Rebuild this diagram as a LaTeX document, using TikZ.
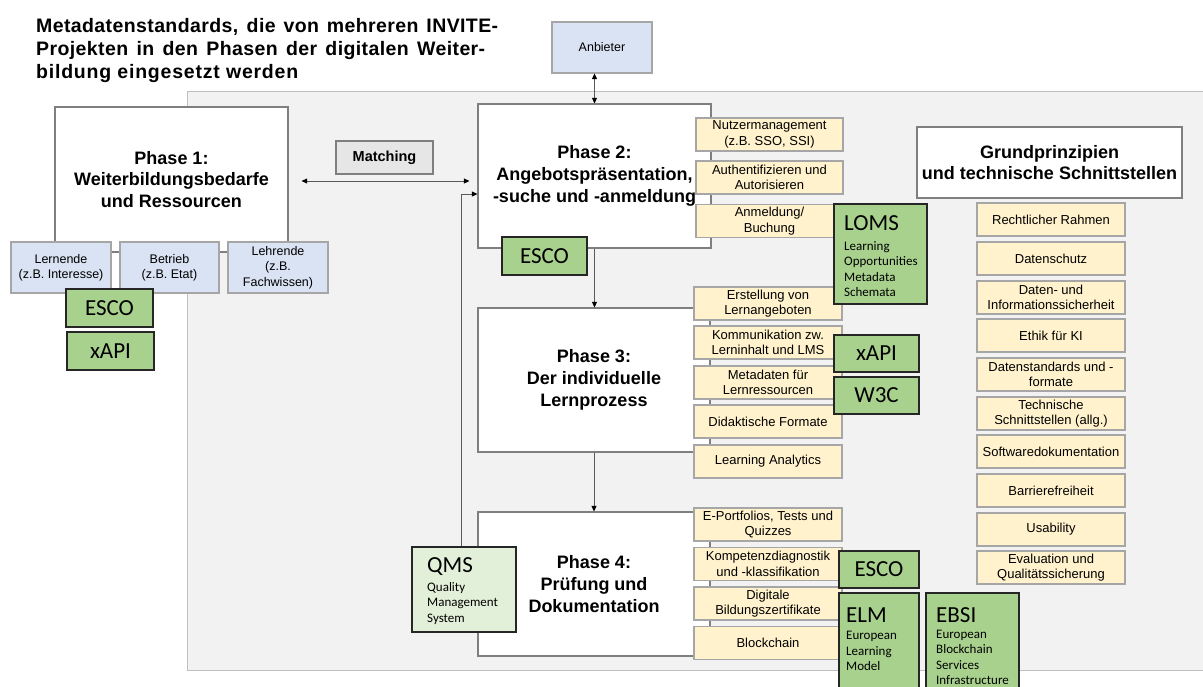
\documentclass[tikz,border=0pt]{standalone}
\usepackage{fontspec}
\setmainfont{Liberation Sans}
\newfontfamily\calibri{Carlito}
\newfontfamily\titleA[LetterSpace=2]{Liberation Sans}
\newfontfamily\titleB[LetterSpace=4]{Liberation Sans}
\usetikzlibrary{arrows.meta}
\definecolor{bggray}{HTML}{F2F2F2}
\definecolor{bgline}{HTML}{BFBFBF}
\definecolor{phaseline}{HTML}{7F7F7F}
\definecolor{yel}{HTML}{FFF2CC}
\definecolor{yline}{HTML}{A6A6A6}
\definecolor{blu}{HTML}{DAE3F3}
\definecolor{bline}{HTML}{A6A6A6}
\definecolor{grn}{HTML}{A9D18E}
\definecolor{lgrn}{HTML}{E2F0D9}
\definecolor{gline}{HTML}{262626}
\definecolor{matchfill}{HTML}{E7E6E6}
\definecolor{conline}{HTML}{595959}
\begin{document}
\begin{tikzpicture}[x=1pt,y=-1pt,
  phasebox/.style={draw=phaseline, line width=1.2pt, fill=white, inner sep=0pt,
    font=\fontsize{18}{21.8}\selectfont\bfseries, align=center},
  ybox/.style={draw=yline, line width=1.1pt, fill=yel, inner sep=0pt,
    minimum width=148pt, minimum height=33pt, align=center,
    font=\fontsize{13}{15.5}\selectfont},
  bbox/.style={draw=bline, line width=1.1pt, fill=blu, inner sep=0pt,
    minimum width=100pt, minimum height=51pt, align=center,
    font=\fontsize{12.5}{15.3}\selectfont},
  gbox/.style={draw=gline, line width=1.2pt, fill=grn, inner sep=0pt,
    font=\calibri\fontsize{23}{27}\selectfont},
  gtitle/.style={inner sep=0pt, anchor=west, font=\calibri\fontsize{23}{27}\selectfont},
  gsub/.style={inner sep=0pt, anchor=west, align=left, font=\calibri\fontsize{13}{15.3}\selectfont},
  titletext/.style={inner sep=0pt, anchor=base west, font=\fontsize{19.5}{23}\selectfont\bfseries},
  conn/.style={draw=conline, line width=0.9pt},
  tip/.style={-{Triangle[length=5.5pt,width=5pt,black]}},
  tips/.style={{Triangle[length=5.5pt,width=5pt,black]}-{Triangle[length=5.5pt,width=5pt,black]}}
]
\useasboundingbox (0,0) rectangle (1203,686);

% background panel
\draw[fill=bggray, draw=bgline, line width=1pt] (187,91) rectangle (1215,670);

% title
\node[titletext] (t1) at (36,32) {\titleA\bfseries\makebox[462pt][s]{Metadatenstandards, die von mehreren INVITE-}};
\node[titletext] (t2) at (36,55) {\titleA\bfseries\makebox[449pt][s]{Projekten in den Phasen der digitalen Weiter-}};
\node[titletext] (t3) at (36,78) {\titleB\bfseries bildung eingesetzt werden};

% Anbieter
\node[bbox, minimum width=100pt, minimum height=51pt] (anb) at (602,47.5) {Anbieter};

% phases
\node[phasebox, minimum width=233pt, minimum height=145pt] (p1) at (171.5,179.5) {Phase 1:\\Weiterbildungsbedarfe\\und Ressourcen};
\node[phasebox, minimum width=233pt, minimum height=144pt] (p2) at (594.5,176) {Phase 2:\\Angebotspräsentation,\\-suche und -anmeldung};
\node[phasebox, minimum width=232pt, minimum height=144pt] (p3) at (594,380) {Phase 3:\\Der individuelle\\Lernprozess};
\node[phasebox, minimum width=232pt, minimum height=144pt] (p4) at (594,584) {Phase 4:\\Prüfung und\\Dokumentation};

% Matching
\node[draw=phaseline, line width=1.1pt, fill=matchfill, inner sep=0pt,
  minimum width=97pt, minimum height=33pt, font=\fontsize{14.5}{17}\selectfont\bfseries] (match) at (384.5,157.5) {Matching};

% blue boxes under phase 1
\node[bbox] (lern) at (61,267.5) {Lernende\\(z.B. Interesse)};
\node[bbox, minimum width=99pt] (betr) at (169.5,267.5) {Betrieb\\(z.B. Etat)};
\node[bbox] (lehr) at (278,267.5) {Lehrende\\(z.B.\\Fachwissen)};

% connectors
\coordinate (mrow) at (0,181);
\draw[conn, tips, shorten <=13pt, shorten >=8pt] (p1.east |- mrow) -- (p2.west |- mrow);
\draw[conn, tips] (anb.south -| p2.north) -- (p2.north);
\draw[conn, tip] (p2.south) -- (p2.south |- p3.north);
\draw[conn, tip] (p3.south) -- (p3.south |- p4.north);

% QMS
\node[draw=gline, line width=1.2pt, fill=lgrn, inner sep=0pt, minimum width=104pt, minimum height=85pt] (qms) at (464,589.5) {};
\draw[conn, tip] ([xshift=-2.5pt]qms.north) |- ([yshift=-18pt]p2.west);
\node[gtitle] (qmsT) at (427,567) {QMS};
\node[gsub] (qmsS) at (427,603.5) {Quality\\Management\\System};

% yellow boxes phase 2
\node[ybox, minimum width=147pt] (y21) at (769.5,134.5) {Nutzermanagement\\(z.B. SSO, SSI)};
\node[ybox, minimum width=147pt] (y22) at (769.5,177.5) {Authentifizieren und\\Autorisieren};
\node[ybox, minimum width=147pt] (y23) at (769.5,221) {Anmeldung/\\Buchung};

% yellow boxes phase 3
\node[ybox] (y31) at (768,303.5) {Erstellung von\\Lernangeboten};
\node[ybox] (y32) at (768,342.5) {Kommunikation zw.\\Lerninhalt und LMS};
\node[ybox] (y33) at (768,382.5) {Metadaten für\\Lernressourcen};
\node[ybox] (y34) at (768,421.5) {Didaktische Formate};
\node[ybox] (y35) at (768,461.5) {Learning Analytics};

% yellow boxes phase 4
\node[ybox] (y41) at (768,524.5) {E-Portfolios, Tests und\\Quizzes};
\node[ybox] (y42) at (768,564) {Kompetenzdiagnostik\\und -klassifikation};
\node[ybox] (y43) at (768,603.5) {Digitale\\Bildungszertifikate};
\node[ybox] (y44) at (768,643) {Blockchain};

% Grundprinzipien
\node[phasebox, minimum width=265pt, minimum height=71pt] (grund) at (1049.5,162.5) {Grundprinzipien\\und technische Schnittstellen};
\node[ybox] (r1) at (1051,219.5) {Rechtlicher Rahmen};
\node[ybox] (r2) at (1051,258.5) {Datenschutz};
\node[ybox] (r3) at (1051,297.5) {Daten- und\\Informationssicherheit};
\node[ybox] (r4) at (1051,335.5) {Ethik für KI};
\node[ybox] (r5) at (1051,374.5) {Datenstandards und -\\formate};
\node[ybox] (r6) at (1051,413.5) {Technische\\Schnittstellen (allg.)};
\node[ybox] (r7) at (1051,451.5) {Softwaredokumentation};
\node[ybox] (r8) at (1051,490.5) {Barrierefreiheit};
\node[ybox] (r9) at (1051,529.5) {Usability};
\node[ybox] (r10) at (1051,567.5) {Evaluation und\\Qualitätssicherung};

% green standard boxes
\node[gbox, minimum width=87pt, minimum height=38pt] (esco1) at (109.5,308) {ESCO};
\node[gbox, minimum width=87pt, minimum height=38pt] (xapi1) at (110.5,351) {xAPI};
\node[gbox, minimum width=85pt, minimum height=38pt] (esco2) at (544.5,256) {ESCO};

\node[gbox, minimum width=93pt, minimum height=100pt] (loms) at (880.5,254) {};
\node[gtitle] (lomsT) at (844,223) {LOMS};
\node[gsub] (lomsS) at (844,269) {Learning\\Opportunities\\Metadata\\Schemata};

\node[gbox, minimum width=85pt, minimum height=37pt] (xapi3) at (876.5,353.5) {xAPI};
\node[gbox, minimum width=85pt, minimum height=37pt] (w3c) at (876.5,395.5) {W3C};
\node[gbox, minimum width=80pt, minimum height=37pt] (esco4) at (879,569.5) {ESCO};

\node[gbox, minimum width=80pt, minimum height=110pt] (elm) at (879,648) {};
\node[gtitle] (elmT) at (846,615) {ELM};
\node[gsub] (elmS) at (846,651) {European\\Learning\\Model};

\node[gbox, minimum width=93pt, minimum height=110pt] (ebsi) at (972.5,648) {};
\node[gtitle] (ebsiT) at (936,615) {EBSI};
\node[gsub] (ebsiS) at (936,657.5) {European\\Blockchain\\Services\\Infrastructure};
\end{tikzpicture}
\end{document}
